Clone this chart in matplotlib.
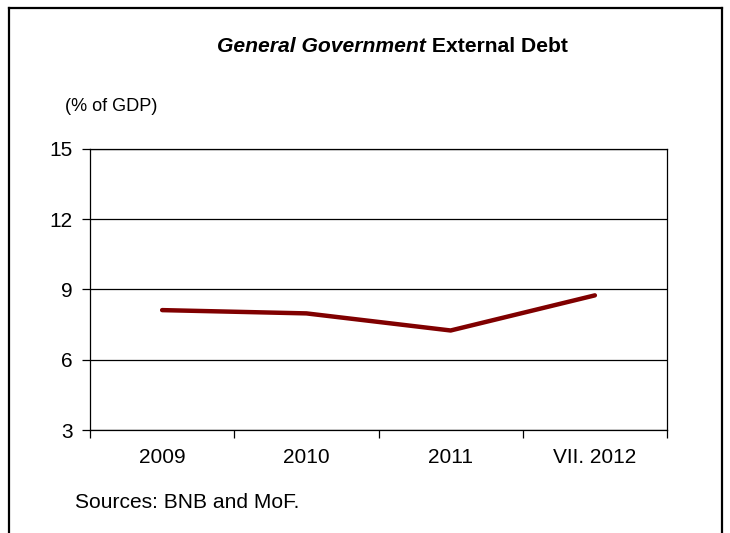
import matplotlib
matplotlib.use("Agg")
import matplotlib.pyplot as plt
from matplotlib.lines import Line2D
from matplotlib.text import Annotation

plt.rcParams['font.family'] = ['Liberation Sans', 'DejaVu Sans']

# data
categories = ['2009', '2010', '2011', 'VII. 2012']
debt_pct_gdp = [8.12, 7.98, 7.25, 8.75]
y_ticks = [3, 6, 9, 12, 15]

fig = plt.figure(figsize=(7.3, 5.33), dpi=100)
ax = fig.add_axes([0.1233, 0.1932, 0.7904, 0.5273])

x = list(range(len(categories)))
ax.plot(x, debt_pct_gdp, color='#800000', linewidth=3.2, solid_capstyle='round',
        solid_joinstyle='round', zorder=3)

ax.set_xlim(-0.5, len(categories) - 0.5)
ax.set_ylim(y_ticks[0], y_ticks[-1])
ax.set_yticks(y_ticks)
ax.set_xticks(x)
ax.set_xticklabels(categories)
ax.set_xticks([i - 0.5 for i in range(len(categories) + 1)], minor=True)
ax.tick_params(axis='x', which='major', length=0, labelsize=15, pad=13)
ax.tick_params(axis='x', which='minor', length=6, width=0.9, direction='out')
ax.tick_params(axis='y', length=6, width=0.9, direction='out', labelsize=15, pad=6.5)
ax.yaxis.grid(True, color='black', linewidth=0.9)
ax.set_axisbelow(True)
for s in ax.spines.values():
    s.set_color('black')
    s.set_linewidth(0.9)

# title with italic part
t1 = fig.text(217 / 730, 1 - 47 / 533, 'General Government', fontsize=15.2,
              fontweight='bold', fontstyle='italic', va='center', ha='left')
fig.add_artist(Annotation(' External Debt', xy=(1, 0.5), xycoords=t1,
                          va='center', ha='left', fontsize=15.2, fontweight='bold'))

fig.text(65 / 730, 1 - 106 / 533, '(% of GDP)', fontsize=13.1, va='center', ha='left')
fig.text(75 / 730, 1 - 502 / 533, 'Sources: BNB and MoF.', fontsize=15.1, va='center', ha='left')

# outer frame (bottom edge runs off the image)
fx0, fx1, fy1 = 9 / 730, 722 / 730, 1 - 8 / 533
for xs, ys in [([fx0, fx0], [-0.05, fy1]), ([fx1, fx1], [-0.05, fy1]), ([fx0, fx1], [fy1, fy1])]:
    fig.add_artist(Line2D(xs, ys, color='black', linewidth=1.6, transform=fig.transFigure))

fig.savefig('out.png', dpi=100)
